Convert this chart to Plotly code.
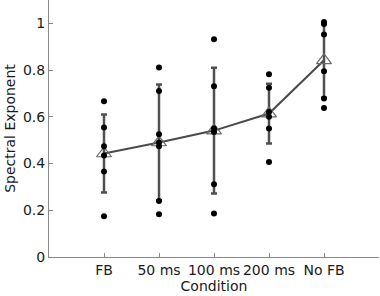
import plotly.graph_objects as go

conditions = ["FB", "50 ms", "100 ms", "200 ms", "No FB"]
cond_x = [1, 2, 3, 4, 5]

subj_FB = [0.667, 0.554, 0.474, 0.434, 0.366, 0.174]
subj_50 = [0.811, 0.710, 0.525, 0.490, 0.474, 0.240, 0.183]
subj_100 = [0.932, 0.731, 0.550, 0.535, 0.311, 0.186]
subj_200 = [0.782, 0.724, 0.621, 0.600, 0.550, 0.407]
subj_NoFB = [1.006, 0.997, 0.952, 0.795, 0.678, 0.638]

means = [0.443, 0.490, 0.541, 0.614, 0.842]
sds = [0.167, 0.248, 0.269, 0.128, 0.160]

subjects = [subj_FB, subj_50, subj_100, subj_200, subj_NoFB]

fig = go.Figure()
fig.add_trace(go.Scatter(
    x=cond_x, y=means, mode="lines+markers",
    line=dict(color="#4a4a4a", width=2),
    marker=dict(symbol="triangle-up-open", size=13, color="#6a6a6a", line=dict(width=1.2)),
    error_y=dict(type="data", array=sds, color="#505050", thickness=2.5, width=3),
    showlegend=False,
))
dx, dy = [], []
for xv, vals in zip(cond_x, subjects):
    dx += [xv] * len(vals)
    dy += vals
fig.add_trace(go.Scatter(
    x=dx, y=dy, mode="markers",
    marker=dict(color="black", size=6),
    showlegend=False,
))

axis_font = dict(family="DejaVu Sans, sans-serif", size=14, color="#1a1a1a")
fig.update_layout(
    width=380, height=296,
    margin=dict(l=49, r=1, t=0, b=39, autoexpand=False),
    paper_bgcolor="white", plot_bgcolor="white",
    font=axis_font,
    xaxis=dict(
        range=[0, 6], tickvals=[1, 2, 3, 4, 5, 6], ticktext=conditions + [""],
        tickangle=0, ticks="inside", ticklen=4, tickcolor="#888",
        showline=True, linecolor="#888", linewidth=1, showgrid=False, zeroline=False,
        automargin=False,
        title=dict(text="Condition", standoff=0, font=axis_font),
        tickfont=axis_font,
    ),
    yaxis=dict(
        range=[0, 1.1], tickvals=[0, 0.2, 0.4, 0.6, 0.8, 1],
        ticktext=["0", "0.2", "0.4", "0.6", "0.8", "1"],
        ticks="inside", ticklen=4, tickcolor="#888",
        showline=True, linecolor="#888", linewidth=1, showgrid=False, zeroline=False,
        automargin=False,
        title=dict(text="Spectral Exponent", standoff=4, font=axis_font),
        tickfont=axis_font,
    ),
)
fig.write_html("out.html", config={"displayModeBar": False},
               post_script="document.body.style.margin='0';")
